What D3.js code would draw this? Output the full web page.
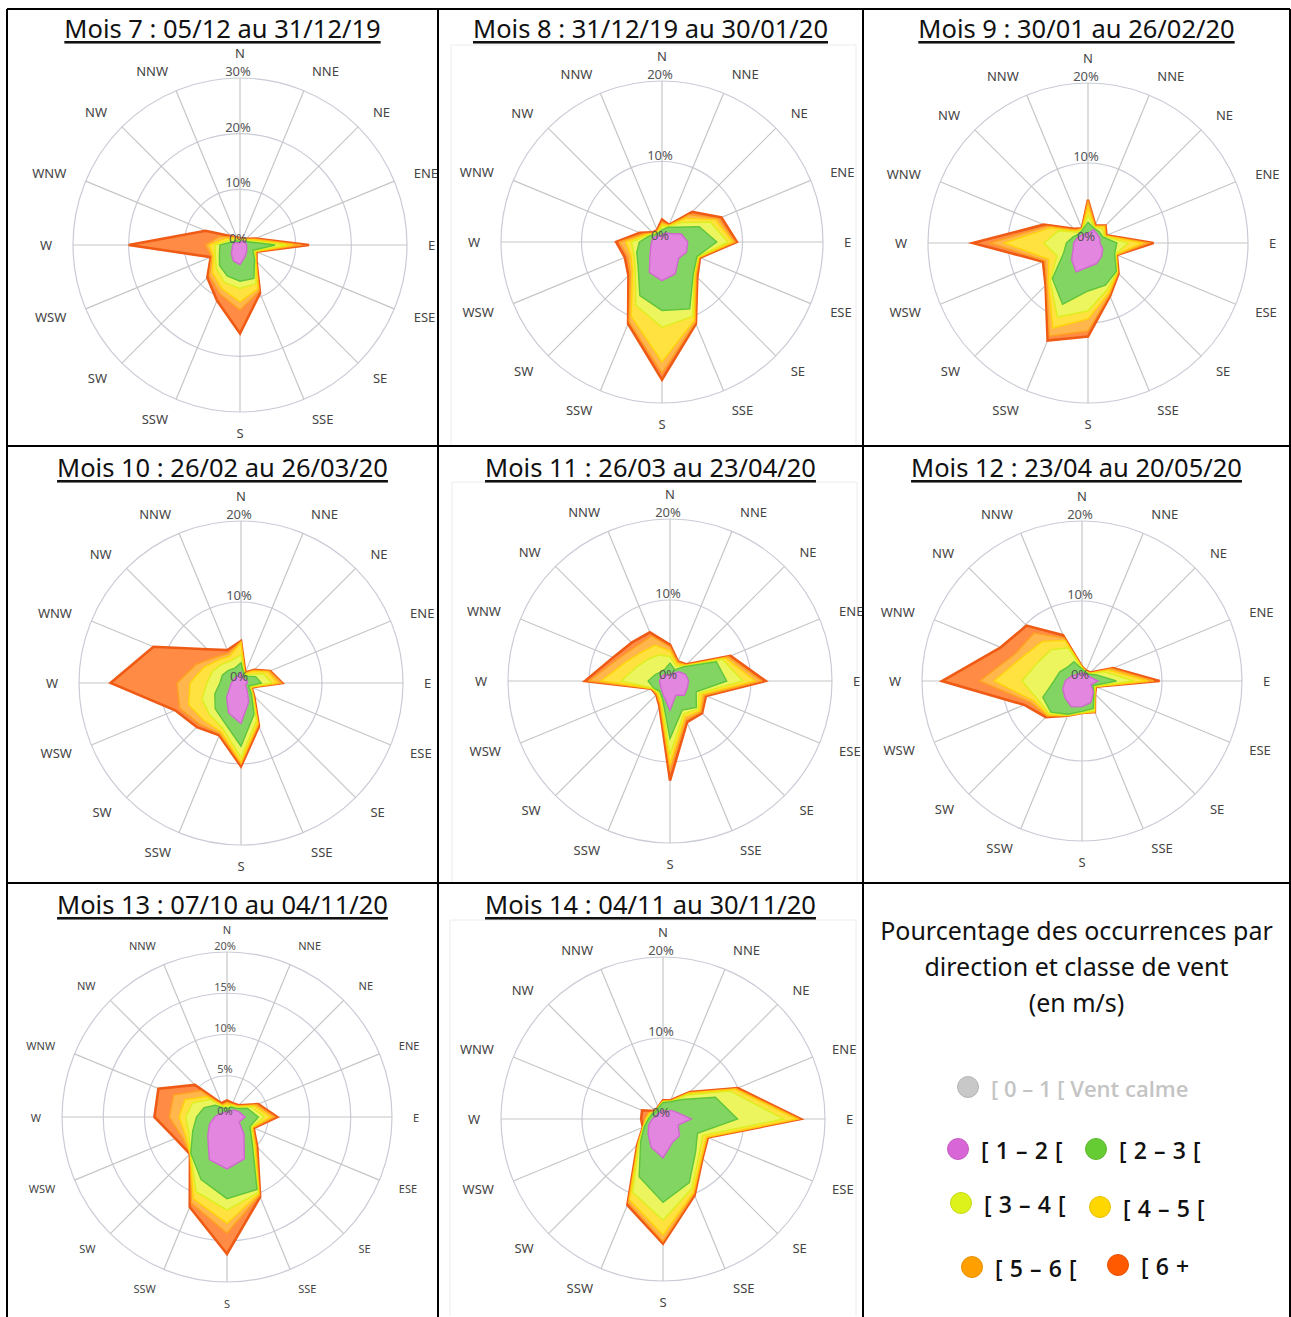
<!DOCTYPE html>
<html>
<head>
<meta charset="utf-8">
<script src="https://cdn.jsdelivr.net/npm/d3@7"></script>
<style>
  body { margin: 0; background: #fff; }
  svg { display: block; }
</style>
</head>
<body>
<svg id="chart" width="1291" height="1317"></svg>
<script>
// Compass sectors, clockwise from north
const directions = ["N","NNE","NE","ENE","E","ESE","SE","SSE","S","SSW","SW","WSW","W","WNW","NW","NNW"];

// Wind speed classes (m/s)
const speedClasses = ["[ 1 – 2 [", "[ 2 – 3 [", "[ 3 – 4 [", "[ 4 – 5 [", "[ 5 – 6 [", "[ 6 +"];
const calmClass = "[ 0 – 1 [ Vent calme";

const titles = [
  "Mois 7 : 05/12 au 31/12/19",
  "Mois 8 : 31/12/19 au 30/01/20",
  "Mois 9 : 30/01 au 26/02/20",
  "Mois 10 : 26/02 au 26/03/20",
  "Mois 11 : 26/03 au 23/04/20",
  "Mois 12 : 23/04 au 20/05/20",
  "Mois 13 : 07/10 au 04/11/20",
  "Mois 14 : 04/11 au 30/11/20"
];

// Cumulative frequency (%) per direction, one row per speed class:
// row k = share of occurrences with speed below the upper bound of class k.
const mois7 = [
  [0.4,0.7,1.0,1.1,1.2,1.3,1.7,2.3,3.5,3.1,2.2,1.5,1.3,1.0,0.6,0.4],
  [0.6,0.8,1.0,1.5,6.3,2.5,3.7,6.5,6.5,6.0,5.2,4.0,3.6,1.5,1.0,0.8],
  [0.8,1.0,1.2,2.0,8.3,2.8,3.9,7.5,7.8,7.3,6.0,4.8,4.5,2.2,1.5,1.0],
  [1.0,1.1,1.3,2.5,9.5,3.0,4.0,8.5,10.2,8.5,7.0,5.2,5.5,3.0,1.8,1.2],
  [1.1,1.2,1.5,2.8,11.0,3.1,4.1,9.0,11.7,9.5,7.8,5.5,6.2,4.0,2.0,1.4],
  [1.2,1.3,1.6,3.0,12.4,3.2,4.2,9.4,15.9,10.8,8.3,5.7,20.0,6.7,2.2,1.5]
];
const mois8 = [
  [0.9,1.2,1.5,2.6,3.2,3.3,2.9,4.3,4.8,4.1,2.1,1.5,1.3,1.2,1.0,0.8],
  [1.5,2.0,2.6,5.0,6.8,4.7,5.5,9.0,8.5,7.2,4.2,3.4,2.8,1.8,1.3,1.2],
  [1.9,2.1,3.4,6.5,8.2,4.8,5.6,10.0,10.6,8.5,4.7,3.8,3.8,2.0,1.4,1.3],
  [2.2,2.2,4.2,7.2,8.8,4.95,5.8,10.5,14.9,10.0,5.2,4.2,4.5,2.3,1.5,1.4],
  [2.5,2.25,4.8,7.6,9.1,5.0,6.0,10.8,16.3,10.7,5.6,4.6,5.3,2.6,1.6,1.5],
  [2.8,2.3,5.3,8.0,9.3,5.1,6.2,11.0,17.1,11.0,5.9,5.0,5.7,3.0,1.7,1.6]
];
const mois9 = [
  [1.2,1.8,1.6,1.6,1.5,2.0,2.4,2.8,3.0,3.9,2.9,2.0,1.8,1.5,1.3,1.2],
  [2.6,2.0,2.0,2.0,3.6,3.6,5.0,5.7,6.0,8.3,6.3,3.3,2.7,2.0,1.6,1.8],
  [3.5,2.1,2.5,2.2,5.0,3.7,5.1,6.3,8.5,10.0,6.7,4.2,5.5,4.0,1.9,1.85],
  [4.5,2.2,2.9,2.3,6.8,3.8,5.2,6.8,9.5,11.5,7.0,5.3,10.5,5.0,2.1,1.9],
  [5.3,2.3,3.0,2.4,7.6,3.85,5.3,7.0,11.0,12.6,7.3,5.8,12.3,5.5,2.3,1.95],
  [5.4,2.4,3.1,2.5,8.2,3.9,5.4,7.2,11.7,13.2,7.5,6.1,14.4,6.0,2.5,2.0]
];
const mois10 = [
  [1.3,0.6,0.6,0.8,0.8,0.6,1.0,2.5,5.0,4.0,2.5,1.5,1.2,1.0,1.0,0.9],
  [2.5,1.0,1.2,2.0,2.5,1.0,1.8,4.2,7.8,5.3,4.5,3.5,2.6,2.5,2.2,2.0],
  [3.5,1.1,1.5,3.0,3.8,1.2,2.0,5.0,9.2,6.0,5.5,5.2,4.2,3.8,3.3,3.0],
  [5.0,1.2,2.0,3.6,4.5,1.3,2.1,5.4,9.8,6.5,6.5,7.0,6.3,5.0,4.0,3.6],
  [5.1,1.3,2.2,3.8,5.0,1.35,2.2,5.6,10.0,6.8,7.2,8.2,7.9,6.0,4.5,4.0],
  [5.2,1.4,2.3,3.9,5.1,1.4,2.3,5.8,10.3,7.0,7.7,8.8,16.1,11.7,5.9,4.4]
];
const mois11 = [
  [0.8,1.0,1.6,2.1,2.3,2.3,2.5,1.9,3.6,2.0,1.5,1.3,1.3,1.2,1.1,0.8],
  [2.2,1.5,2.5,6.2,7.0,3.5,4.6,3.9,7.1,2.4,1.8,2.2,2.7,2.0,1.6,1.6],
  [3.0,2.0,2.6,7.0,9.0,3.9,4.9,4.4,9.1,2.7,2.0,2.3,6.0,4.5,3.8,3.5],
  [3.7,2.3,2.7,7.4,10.5,4.3,5.2,4.8,10.3,3.0,2.2,2.4,8.5,6.0,5.0,4.8],
  [4.2,2.5,2.8,7.8,11.3,4.6,5.4,5.2,11.1,3.2,2.3,2.45,10.0,7.0,6.0,6.0],
  [4.5,2.6,2.9,8.1,11.8,4.8,5.6,5.5,12.3,3.4,2.4,2.5,10.5,7.6,6.7,6.5]
];
const mois12 = [
  [1.0,1.0,1.0,1.2,2.0,1.2,2.0,2.9,3.2,3.5,3.0,2.6,2.1,1.5,1.1,1.0],
  [1.5,1.2,1.2,2.0,4.3,1.5,2.1,3.7,3.8,4.5,5.5,5.3,3.5,3.0,2.5,2.6],
  [1.6,1.25,1.3,3.0,6.5,1.7,2.2,4.0,3.9,4.6,5.8,6.0,7.5,6.0,5.5,4.5],
  [1.7,1.3,1.35,3.6,8.2,1.8,2.25,4.1,4.0,4.6,6.0,6.5,11.0,8.0,7.0,5.5],
  [1.75,1.35,1.4,4.0,9.0,1.85,2.3,4.2,4.0,4.7,6.2,7.0,12.8,9.0,8.5,5.8],
  [1.8,1.4,1.5,4.2,9.7,1.9,2.3,4.2,4.0,4.7,6.4,7.8,17.5,11.0,9.8,6.2]
];
const mois13 = [
  [0.5,0.8,1.2,1.6,2.2,1.6,2.9,5.5,6.3,5.6,3.3,2.3,1.5,1.0,0.7,0.6],
  [1.0,1.3,1.5,2.7,3.8,3.0,4.3,9.5,9.9,8.2,6.2,4.5,3.7,3.0,2.0,1.2],
  [1.3,1.5,1.7,3.2,4.5,3.2,4.5,9.9,11.3,9.8,6.25,5.0,5.0,4.5,3.0,1.4],
  [1.6,1.6,1.8,3.6,5.3,3.3,4.8,10.1,12.9,10.7,6.3,5.5,5.8,5.5,3.5,1.5],
  [1.8,1.7,1.9,3.9,5.8,3.4,5.0,10.3,14.1,11.3,6.3,6.0,7.0,7.0,4.5,1.6],
  [2.0,1.8,2.0,4.1,6.1,3.5,5.2,10.5,16.6,11.8,6.35,6.8,8.8,9.0,5.5,1.8]
];
const mois14 = [
  [1.1,1.0,1.5,2.0,3.5,2.0,2.9,3.1,4.8,3.8,2.6,1.9,1.3,1.0,0.9,0.9],
  [2.0,2.3,3.4,7.0,9.2,4.6,5.7,8.5,10.3,7.7,3.9,2.5,1.8,1.5,1.3,1.5],
  [2.1,2.3,4.2,9.0,14.9,5.3,6.3,9.3,12.5,9.8,4.2,2.6,2.0,1.7,1.3,1.5],
  [2.2,2.4,4.5,9.6,16.5,5.8,6.7,9.8,14.3,10.8,4.3,2.65,2.1,1.8,1.3,1.55],
  [2.2,2.4,4.6,9.8,16.8,5.9,6.8,10.0,15.1,11.2,4.4,2.7,2.2,2.0,1.35,1.6],
  [2.3,2.5,4.7,10.0,17.0,6.0,6.9,10.2,15.4,11.5,4.5,2.7,2.7,2.8,1.4,1.6]
];

// Radial axis: maximum and ring ticks (%)
const axisMax = [30, 20, 20, 20, 20, 20, 20, 20];
const ringTicks = [[10,20,30],[10,20],[10,20],[10,20],[10,20],[10,20],[5,10,15,20],[10,20]];

const monthData = [mois7, mois8, mois9, mois10, mois11, mois12, mois13, mois14];

// ---------- styling ----------
const legendColors = ["#d966d6", "#66cc33", "#ddf21b", "#ffd700", "#ffa000", "#ff5a00"];
const areaFill   = ["#e386e0", "#82d562", "#ecf55e", "#ffe23f", "#ffb64c", "#ff8b45"];
const areaStroke = ["#cf69cd", "#5fc53c", "#dcee1c", "#ffd30a", "#ffa01e", "#ef5a14"];
const calmColor = "#c8c8c8";

const W = 1291, H = 1317;
const colX = [7, 438, 863, 1290];
const rowY = [9, 446, 883, 1317];
const titleOffset = [19, 21, 21];

// centre and outer radius of each rose inside its cell; `frame` is the
// faint border of the pasted chart image where one shows
const roseLayout = [
  {cx: 240, cy: 245, R: 167, font: 13},
  {cx: 662, cy: 242, R: 161, font: 13, frame: [451, 45, 856]},
  {cx: 1088, cy: 243, R: 160, font: 13},
  {cx: 241, cy: 683, R: 162, font: 13},
  {cx: 670, cy: 681, R: 162, font: 13, frame: [452, 482, 857]},
  {cx: 1082, cy: 681, R: 160, font: 13},
  {cx: 227, cy: 1117, R: 165, font: 11},
  {cx: 663, cy: 1119, R: 162, font: 13, frame: [450, 920, 856]}
];

const svg = d3.select("#chart");
const defs = svg.append("defs");
svg.append("rect").attr("width", W).attr("height", H).attr("fill", "#fff");

const angle = d3.scaleLinear().domain([0, directions.length]).range([0, 2 * Math.PI]);
const FONT = "'Noto Sans', 'Open Sans', sans-serif";

monthData.forEach((data, k) => {
  const col = k % 3, row = Math.floor(k / 3);
  const x0 = colX[col], x1 = colX[col + 1], y0 = rowY[row], y1 = rowY[row + 1];
  const L = roseLayout[k];

  defs.append("clipPath").attr("id", "cell" + k)
    .append("rect").attr("x", x0 + 1).attr("y", y0 + 1)
    .attr("width", x1 - x0 - 2).attr("height", y1 - y0 - 2);

  const cell = svg.append("g").attr("clip-path", `url(#cell${k})`);

  if (L.frame) {
    const [fx, fy, fx2] = L.frame;
    cell.append("path")
      .attr("d", `M${fx},${y1}V${fy}H${fx2}V${y1}`)
      .attr("fill", "none").attr("stroke", "#ececec").attr("stroke-width", 1);
  }

  // title
  cell.append("text")
    .attr("x", (x0 + x1) / 2).attr("y", y0 + titleOffset[row])
    .attr("text-anchor", "middle").attr("dominant-baseline", "central")
    .attr("font-family", FONT).attr("font-size", 25.5).attr("fill", "#111")
    .attr("text-decoration", "underline")
    .text(titles[k]);

  const g = cell.append("g").attr("transform", `translate(${L.cx},${L.cy})`);
  const r = d3.scaleLinear().domain([0, axisMax[k]]).range([0, L.R]);

  // grid rings
  g.selectAll("circle.ring").data(ringTicks[k]).join("circle")
    .attr("r", d => r(d)).attr("fill", "none")
    .attr("stroke", "#c9ccd6").attr("stroke-width", 1.2);

  // spokes
  g.selectAll("line.spoke").data(directions).join("line")
    .attr("x1", 0).attr("y1", 0)
    .attr("x2", (d, i) => L.R * Math.sin(angle(i)))
    .attr("y2", (d, i) => -L.R * Math.cos(angle(i)))
    .attr("stroke", "#c6c6c6").attr("stroke-width", 1.2);

  // stacked class areas, outermost first
  const radial = d3.lineRadial()
    .angle((d, i) => angle(i))
    .radius(d => r(d))
    .curve(d3.curveLinearClosed);

  for (let j = data.length - 1; j >= 0; j--) {
    g.append("path")
      .attr("d", radial(data[j]))
      .attr("fill", areaFill[j])
      .attr("stroke", areaStroke[j])
      .attr("stroke-width", j === data.length - 1 ? 2.6 : 1.4)
      .attr("stroke-linejoin", "miter");
  }

  // ring labels
  g.selectAll("text.tick").data([0].concat(ringTicks[k])).join("text")
    .attr("x", -2).attr("y", d => -r(d) - 7)
    .attr("text-anchor", "middle").attr("dominant-baseline", "central")
    .attr("font-family", FONT).attr("font-size", L.font)
    .attr("fill", "#555")
    .text(d => d + "%");

  // direction labels, aligned away from the rose; N sits above the outer ring label
  const labelR = L.R + 21;
  g.selectAll("text.dir").data(directions).join("text")
    .attr("x", (d, i) => labelR * Math.sin(angle(i)))
    .attr("y", (d, i) => i === 0 ? -(r(axisMax[k]) + 7 + L.font * 1.4) : -labelR * Math.cos(angle(i)))
    .attr("text-anchor", (d, i) => {
      const s = Math.sin(angle(i));
      return Math.abs(s) < 0.01 ? "middle" : (s > 0 ? "start" : "end");
    })
    .attr("dominant-baseline", "central")
    .attr("font-family", FONT).attr("font-size", L.font)
    .attr("fill", "#444")
    .text(d => d);
});

// ---------- legend cell ----------
const legend = svg.append("g");
const lcx = (colX[2] + colX[3]) / 2;
["Pourcentage des occurrences par", "direction et classe de vent", "(en m/s)"].forEach((t, i) => {
  legend.append("text")
    .attr("x", lcx).attr("y", 930 + i * 36)
    .attr("text-anchor", "middle").attr("dominant-baseline", "central")
    .attr("font-family", FONT).attr("font-size", 25).attr("fill", "#111")
    .text(t);
});

const legendItems = [
  {label: calmClass, color: calmColor, cx: 968, cy: 1087, text: "#c4c4c4"},
  {label: speedClasses[0], color: legendColors[0], cx: 958, cy: 1149, text: "#111"},
  {label: speedClasses[1], color: legendColors[1], cx: 1096, cy: 1149, text: "#111"},
  {label: speedClasses[2], color: legendColors[2], cx: 961, cy: 1203, text: "#111"},
  {label: speedClasses[3], color: legendColors[3], cx: 1100, cy: 1207, text: "#111"},
  {label: speedClasses[4], color: legendColors[4], cx: 972, cy: 1267, text: "#111"},
  {label: speedClasses[5], color: legendColors[5], cx: 1118, cy: 1265, text: "#111"}
];
legendItems.forEach((it, i) => {
  legend.append("circle").attr("cx", it.cx).attr("cy", it.cy).attr("r", 10.5)
    .attr("fill", it.color).attr("stroke", d3.color(it.color).darker(0.3)).attr("stroke-width", 1);
  legend.append("text")
    .attr("x", it.cx + 23).attr("y", it.cy + 1)
    .attr("dominant-baseline", "central")
    .attr("font-family", "'Open Sans', sans-serif").attr("font-weight", 600)
    .attr("font-size", i === 0 ? 22 : 23).attr("letter-spacing", i === 0 ? 0 : 0.6)
    .attr("fill", it.text)
    .text(it.label);
});

// ---------- table borders ----------
const borders = svg.append("g").attr("stroke", "#000").attr("stroke-width", 2);
colX.forEach(x => borders.append("line").attr("x1", x).attr("x2", x).attr("y1", rowY[0]).attr("y2", H));
rowY.slice(0, 3).forEach(y => borders.append("line").attr("x1", colX[0]).attr("x2", colX[3]).attr("y1", y).attr("y2", y));
</script>
</body>
</html>
